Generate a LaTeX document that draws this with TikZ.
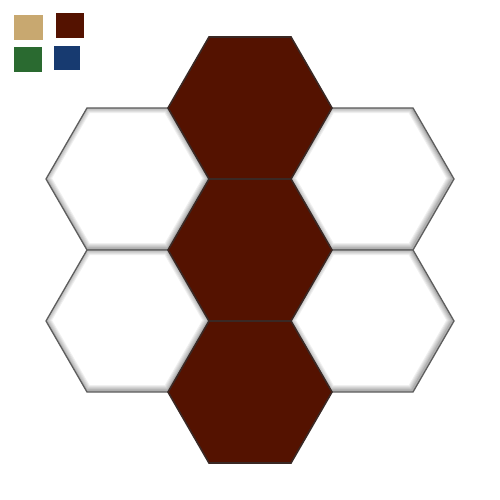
\documentclass[tikz,border=0pt]{standalone}
\usetikzlibrary{calc}
\definecolor{tan}{HTML}{C8A870}
\definecolor{maroon}{HTML}{541200}
\definecolor{leafgreen}{HTML}{2A6A30}
\definecolor{navy}{HTML}{173A70}
\definecolor{hexedge}{HTML}{5E5E5E}
\definecolor{darkedge}{HTML}{3A2824}
\tikzset{
  whitehex/.style={draw=hexedge, line width=1.3pt, fill=none, line join=miter},
  darkhex/.style={draw=darkedge, line width=1.6pt, fill=maroon, line join=miter},
}
\newcommand{\hexat}[2]{($(#1,#2)+(0:82)$) -- ($(#1,#2)+(60:82)$) -- ($(#1,#2)+(120:82)$) -- ($(#1,#2)+(180:82)$) -- ($(#1,#2)+(240:82)$) -- ($(#1,#2)+(300:82)$) -- cycle}
\newcommand{\whitehexat}[2]{%
  \fill[white] \hexat{#1}{#2};
  \begin{scope}
    \clip \hexat{#1}{#2};
    \begin{scope}[shift={(-0.8,-0.8)}]
      \foreach \w in {12,10,8,6,4,3}{
        \draw[black, opacity=0.06, line width=\w pt] \hexat{#1}{#2};
      }
    \end{scope}
  \end{scope}
  \draw[whitehex] \hexat{#1}{#2};
}
\begin{document}
\begin{tikzpicture}[x=1pt,y=-1pt]
\useasboundingbox (0,0) rectangle (500,500);
\fill[white] (0,0) rectangle (500,500);
% legend
\fill[tan] (14,15) rectangle (43,40);
\fill[maroon] (56,13) rectangle (84,38);
\fill[leafgreen] (14,47) rectangle (42,72);
\fill[navy] (54,46) rectangle (80,70);
% white hexes
\whitehexat{128}{179}
\whitehexat{128}{321}
\whitehexat{372}{179}
\whitehexat{372}{321}
% dark hexes
\draw[darkhex] \hexat{250}{108};
\draw[darkhex] \hexat{250}{250};
\draw[darkhex] \hexat{250}{392};
\end{tikzpicture}
\end{document}
